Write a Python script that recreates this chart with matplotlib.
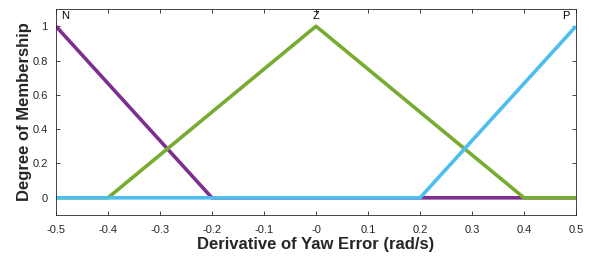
import numpy as np
import matplotlib.pyplot as plt

plt.rcParams['font.family'] = ['Liberation Sans', 'DejaVu Sans']

# membership functions (breakpoints)
x_n = [-0.5, -0.2, 0.5]
y_n = [1, 0, 0]
x_z = [-0.5, -0.4, 0.0, 0.4, 0.5]
y_z = [0, 0, 1, 0, 0]
x_p = [-0.5, 0.2, 0.5]
y_p = [0, 0, 1]

mf_names = ['N', 'Z', 'P']
mf_peaks = [-0.5, 0.0, 0.5]

xticks = np.round(np.arange(-0.5, 0.51, 0.1), 1)
yticks = [0, 0.2, 0.4, 0.6, 0.8, 1]

fig = plt.figure(figsize=(5.89, 2.59), dpi=100)
ax = fig.add_axes([0.095, 0.170, 0.883, 0.795])

ax.plot(x_n, y_n, color='#7E2F8E', lw=2.6, solid_capstyle='butt')
ax.plot(x_z, y_z, color='#77AC30', lw=2.6, solid_capstyle='butt')
ax.plot(x_p, y_p, color='#4DBEEE', lw=2.6, solid_capstyle='butt')

aligns = ['left', 'center', 'right']
for name, pk, ha in zip(mf_names, mf_peaks, aligns):
    xt = pk + (0.01 if ha == 'left' else (-0.012 if ha == 'right' else 0))
    ax.text(xt, 1.03, name, ha=ha, va='bottom', fontsize=8, color='black')

ax.set_xlim(-0.5, 0.5)
ax.set_ylim(-0.1, 1.1)
ax.set_xticks(xticks)
ax.set_xticklabels(['%g' % v for v in xticks])
ax.set_yticks(yticks)
ax.set_yticklabels(['%g' % v for v in yticks])
ax.tick_params(direction='in', top=True, right=True, length=3, labelsize=8,
               colors='#262626', width=0.6)
ax.tick_params(axis='x', pad=7)
ax.tick_params(axis='y', pad=6)
for s in ax.spines.values():
    s.set_color('#262626')
    s.set_linewidth(0.6)

ax.set_xlabel('Derivative of Yaw Error (rad/s)', fontsize=12, fontweight='bold',
              color='#262626', labelpad=2)
ax.set_ylabel('Degree of Membership', fontsize=12, fontweight='bold',
              color='#262626', labelpad=0.5)

fig.savefig('out.png', dpi=100)
